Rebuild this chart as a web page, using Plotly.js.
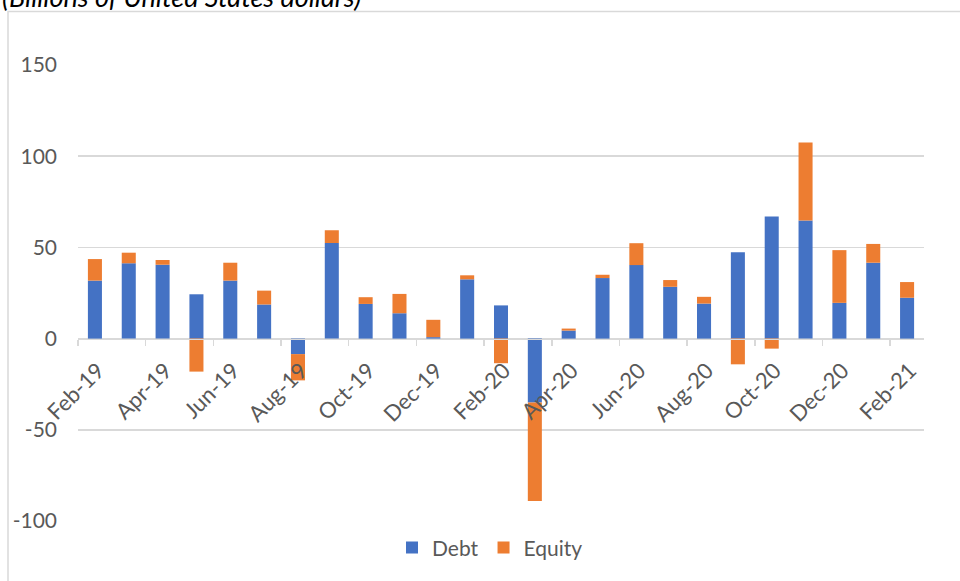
<!DOCTYPE html>
<html>
<head>
<meta charset="utf-8">
<script src="https://cdn.plot.ly/plotly-3.0.1.min.js"></script>
<style>
  html, body { margin: 0; padding: 0; background: #fff; }
  #chart { width: 960px; height: 581px; }
</style>
</head>
<body>
<div id="chart"></div>
<script>
const months = ["Feb-19","Mar-19","Apr-19","May-19","Jun-19","Jul-19","Aug-19","Sep-19","Oct-19","Nov-19","Dec-19","Jan-20","Feb-20","Mar-20","Apr-20","May-20","Jun-20","Jul-20","Aug-20","Sep-20","Oct-20","Nov-20","Dec-20","Jan-21","Feb-21"];
const debt = [31.8, 41.3, 40.5, 24.3, 31.8, 18.7, -8.5, 52.4, 19.0, 13.9, 0.8, 32.5, 18.2, -35.0, 4.4, 33.2, 40.3, 28.4, 19.2, 47.3, 67.0, 64.7, 19.6, 41.6, 22.4];
const equity = [11.8, 5.8, 2.6, -18.1, 9.8, 7.6, -14.4, 7.0, 3.7, 10.6, 9.5, 2.2, -13.5, -54.0, 1.1, 1.8, 12.0, 3.7, 3.7, -14.1, -5.5, 42.8, 28.9, 10.3, 8.6];
const seriesNames = ["Debt", "Equity"];
const yTicks = [-100, -50, 0, 50, 100, 150];
const yTickLabels = ["-100", "-50", "0", "50", "100", "150"];
const subtitle = "(Billions of United States dollars)";

const gray = "#595959";
const grid = "#d9d9d9";
const fontFam = "Lato, 'Open Sans', sans-serif";
const fs = 21;

const traces = [
  { type: "bar", name: seriesNames[0], x: months, y: debt, marker: { color: "#4472C4" } },
  { type: "bar", name: seriesNames[1], x: months, y: equity, marker: { color: "#ED7D31" } }
];

const yMin = yTicks[0], yMax = yTicks[yTicks.length - 1];

const layout = {
  width: 960, height: 581,
  paper_bgcolor: "#fff", plot_bgcolor: "#fff",
  margin: { l: 78, r: 36, t: 65, b: 60, autoexpand: false },
  barmode: "relative",
  bargap: 0.585,
  font: { family: fontFam, size: fs, color: gray },
  showlegend: true,
  legend: {
    orientation: "h", x: 0.487, xanchor: "center", y: -0.059, yanchor: "middle",
    font: { family: fontFam, size: fs, color: gray },
    traceorder: "normal", itemclick: false
  },
  xaxis: {
    type: "category",
    anchor: "free",
    position: (0 - yMin) / (yMax - yMin),
    showgrid: false, zeroline: false,
    showline: true, linecolor: grid, linewidth: 1.5,
    ticks: "outside", tickson: "boundaries", ticklen: 6, tickcolor: grid, tickwidth: 1.5,
    tick0: 0, dtick: 2,
    tickangle: -45,
    ticklabelstandoff: 9,
    ticklabelshift: 3,
    tickfont: { family: fontFam, size: 22, color: gray },
    automargin: false,
    fixedrange: true
  },
  yaxis: {
    range: [yMin, yMax],
    tickvals: yTicks,
    ticktext: yTickLabels,
    showgrid: true, gridcolor: grid, gridwidth: 1.5,
    zeroline: false, showline: false,
    ticks: "", ticklabelstandoff: 20,
    tickfont: { family: fontFam, size: fs, color: gray },
    automargin: false,
    fixedrange: true
  },
  shapes: [
    {
      type: "rect", xref: "paper", yref: "paper",
      x0: (8 - 78) / 846, x1: 1.3,
      y0: -0.3, y1: 1 + (65 - 11.5) / 456,
      line: { color: grid, width: 1.5 }, fillcolor: "rgba(0,0,0,0)", layer: "below"
    }
  ],
  annotations: [
    {
      text: subtitle, xref: "paper", yref: "paper",
      x: (0 - 78) / 846, xanchor: "left",
      y: 1 + (65 + 3) / 456, yanchor: "middle",
      showarrow: false,
      font: { family: fontFam, size: 27, color: "#000", style: "italic" }
    }
  ]
};

Plotly.newPlot("chart", traces, layout, { displayModeBar: false, staticPlot: true });
</script>
</body>
</html>
